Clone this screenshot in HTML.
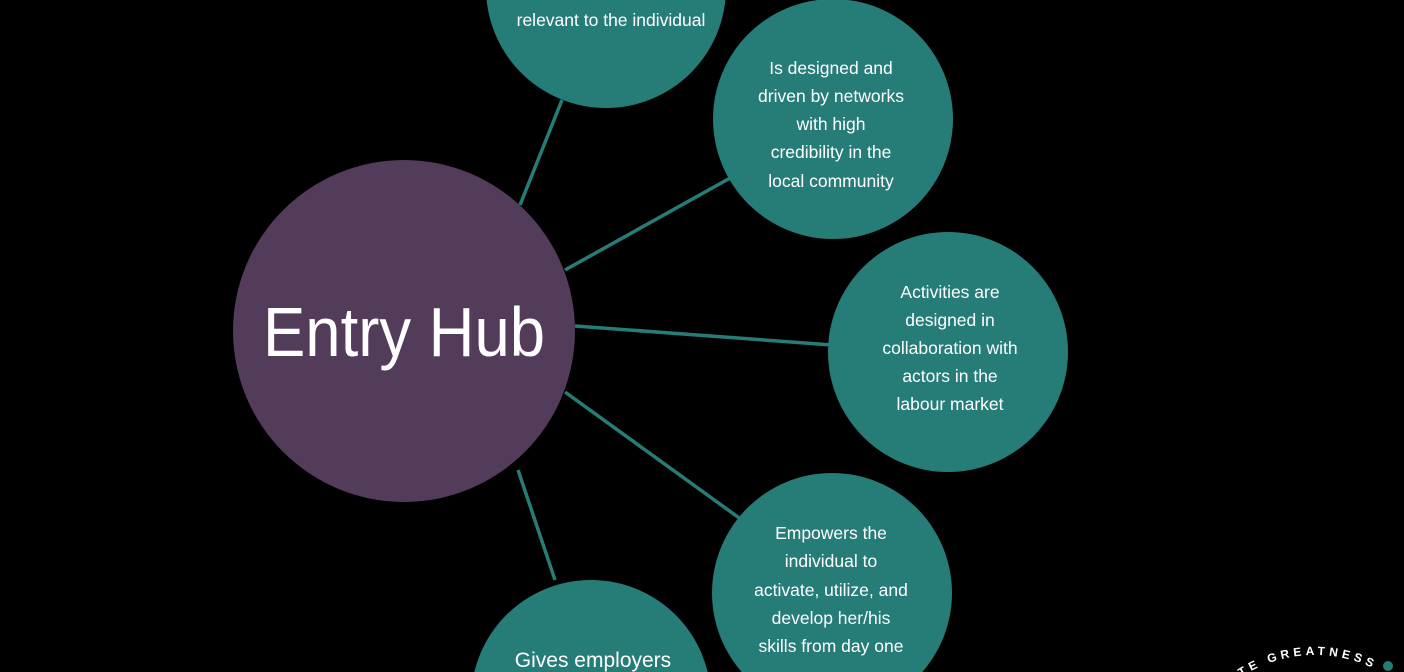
<!DOCTYPE html>
<html><head><style>
html,body{margin:0;background:#000;width:1404px;height:672px;overflow:hidden}
svg{display:block}
</style></head><body>
<svg width="1404" height="672" xmlns="http://www.w3.org/2000/svg" style="font-family:'Liberation Sans',Arial,sans-serif">
<rect width="1404" height="672" fill="#000"/>
<g stroke="#267c77" stroke-width="3.5">
<line x1="520" y1="205" x2="562" y2="100"/>
<line x1="565" y1="270" x2="732" y2="177"/>
<line x1="575" y1="326" x2="832" y2="345"/>
<line x1="565" y1="392" x2="742" y2="520"/>
<line x1="518" y1="470" x2="555" y2="580"/>
</g>
<g fill="#267c77">
<circle cx="606" cy="-12" r="120"/>
<circle cx="833" cy="119" r="120"/>
<circle cx="948" cy="352" r="120"/>
<circle cx="832" cy="593" r="120"/>
<circle cx="591" cy="700" r="120"/>
</g>
<circle cx="404" cy="331" r="171" fill="#523c5a"/>
<text x="404" y="356" font-size="70" fill="#fff" text-anchor="middle" textLength="282" lengthAdjust="spacingAndGlyphs">Entry Hub</text>
<g fill="#fff" font-size="17.5" text-anchor="middle">
<text x="611" y="-8">employment opportunity</text>
<text x="611" y="26">relevant to the individual</text>
<text x="831" y="74">Is designed and</text>
<text x="831" y="102">driven by networks</text>
<text x="831" y="130">with high</text>
<text x="831" y="158">credibility in the</text>
<text x="831" y="187">local community</text>
<text x="950" y="298">Activities are</text>
<text x="950" y="326">designed in</text>
<text x="950" y="354">collaboration with</text>
<text x="950" y="382">actors in the</text>
<text x="950" y="410">labour market</text>
<text x="831" y="539">Empowers the</text>
<text x="831" y="567">individual to</text>
<text x="831" y="596">activate, utilize, and</text>
<text x="831" y="624">develop her/his</text>
<text x="831" y="652">skills from day one</text>
<text x="593" y="667" font-size="21">Gives employers</text>
</g>
<defs><path id="arc" d="M1180,790 A135,135 0 0 1 1450,790"/></defs>
<text font-size="12" font-weight="bold" fill="#fff" letter-spacing="4"><textPath href="#arc" startOffset="20%">CREATE GREATNESS</textPath></text>
<circle cx="1388" cy="666" r="5" fill="#267c77"/>
</svg>
</body></html>
